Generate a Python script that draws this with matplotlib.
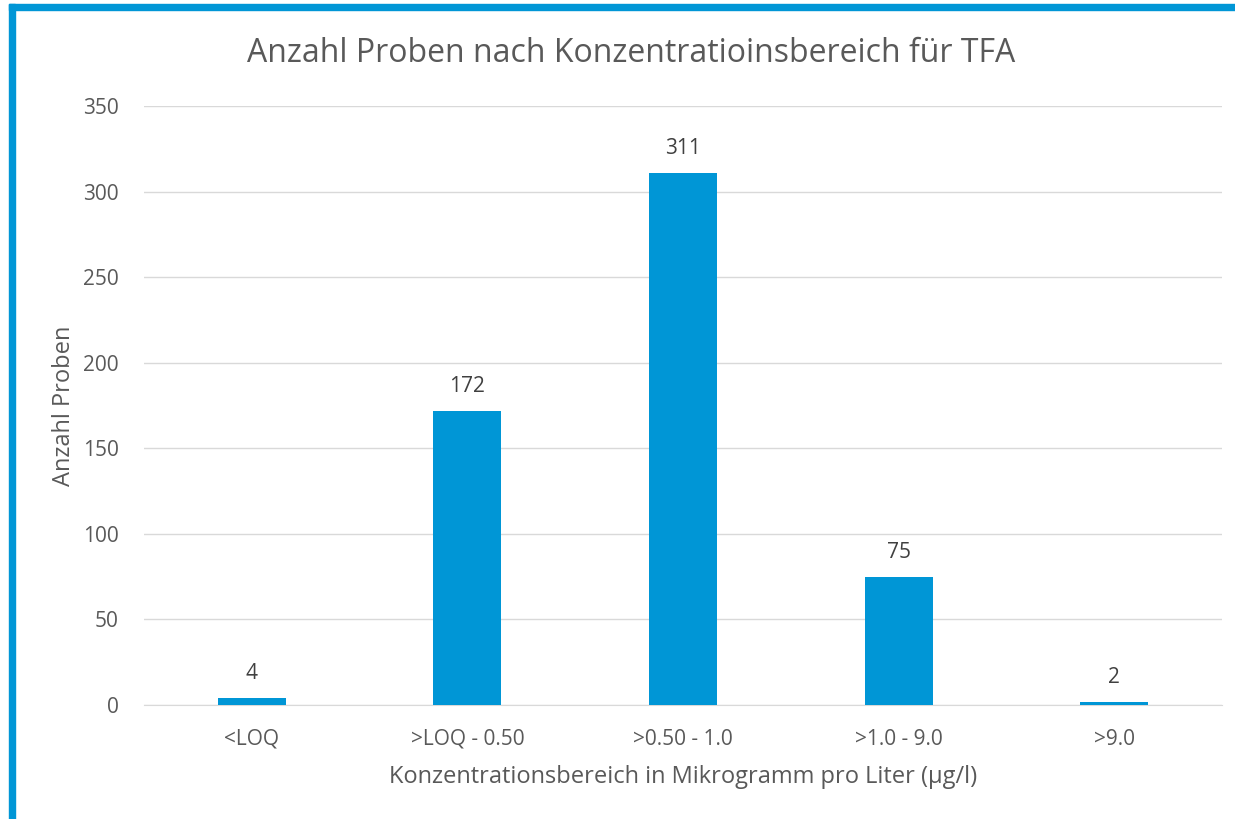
import matplotlib
matplotlib.use("Agg")
import matplotlib.pyplot as plt
from matplotlib.patches import Rectangle

categories = ["<LOQ", ">LOQ - 0.50", ">0.50 - 1.0", ">1.0 - 9.0", ">9.0"]
counts = [4, 172, 311, 75, 2]
yticks = [0, 50, 100, 150, 200, 250, 300, 350]

BLUE = "#0096d6"
GREY = "#595959"
plt.rcParams["font.family"] = ["Open Sans", "DejaVu Sans"]

W, H = 1235, 819
fig = plt.figure(figsize=(W / 100, H / 100), dpi=100)
ax = fig.add_axes([144 / W, 1 - 705 / H, (1222 - 144) / W, (705 - 106) / H])

x = range(len(categories))
bars = ax.bar(x, counts, width=0.315, color=BLUE, zorder=3)
for xi, v in zip(x, counts):
    ax.annotate(str(v), (xi, v), xytext=(0, 10), textcoords="offset points",
                ha="center", va="bottom", fontsize=15, color="#404040")

ax.set_xlim(-0.5, len(categories) - 0.5)
ax.set_ylim(0, 350)
ax.set_yticks(yticks)
ax.set_xticks(list(x))
ax.set_xticklabels(categories)
ax.tick_params(axis="both", length=0, labelsize=15, colors=GREY)
ax.tick_params(axis="x", pad=17)
ax.tick_params(axis="y", pad=18)
ax.grid(axis="y", color="#d9d9d9", linewidth=1, zorder=0)
for s in ["top", "right", "left"]:
    ax.spines[s].set_visible(False)
ax.spines["bottom"].set_color("#d9d9d9")

ax.set_xlabel("Konzentrationsbereich in Mikrogramm pro Liter (µg/l)", fontsize=17, color=GREY, labelpad=11)
ax.set_ylabel("Anzahl Proben", fontsize=17, color=GREY, labelpad=5)
fig.text(631 / W, 1 - 53 / H, "Anzahl Proben nach Konzentratioinsbereich für TFA",
         ha="center", va="center", fontsize=23, color=GREY)

# blue frame on left and top
fig.patches.append(Rectangle((9 / W, 0), 6 / W, 1 - 4 / H, transform=fig.transFigure,
                             color=BLUE, zorder=10))
fig.patches.append(Rectangle((9 / W, 1 - 10 / H), 1 - 9 / W, 6 / H, transform=fig.transFigure,
                             color=BLUE, zorder=10))

fig.savefig("out.png", dpi=100)
